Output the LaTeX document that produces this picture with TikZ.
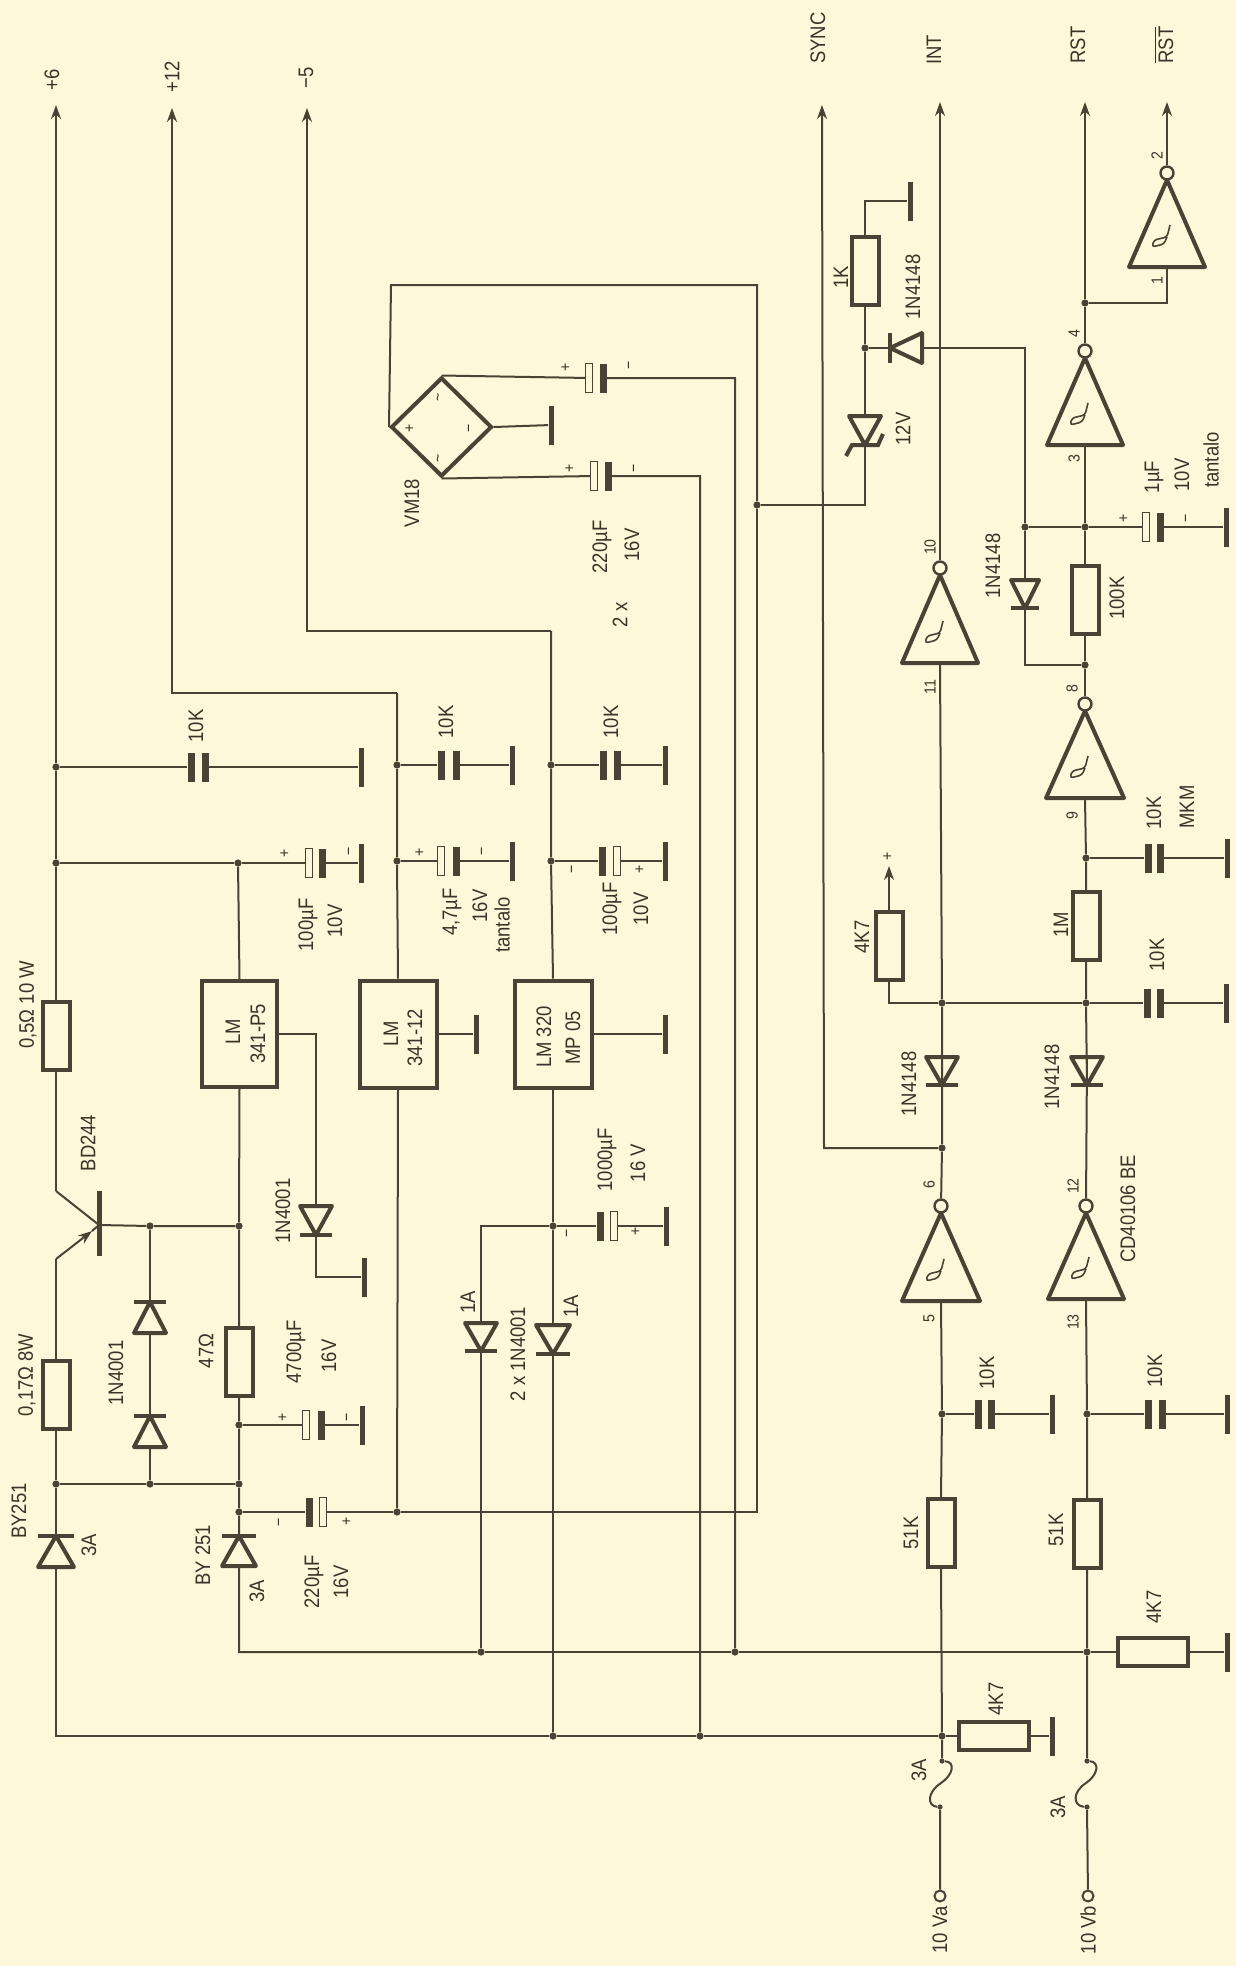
\documentclass[tikz,border=0pt]{standalone}
\usepackage{fontspec}
\setmainfont{Liberation Sans}[FakeStretch=0.88]
\usetikzlibrary{arrows.meta,shapes.geometric}
\definecolor{paper}{HTML}{FDF8D9}
\definecolor{ink}{HTML}{4A4234}
\definecolor{txt}{HTML}{3A3328}
\newcount\labcnt
\newcommand{\lab}[3]{\global\advance\labcnt by 1 \node[lab] (L\the\labcnt) at (#1,#2) {#3};}
\newcommand{\slab}[3]{\global\advance\labcnt by 1 \node[lab,font=\fontsize{8}{9}\selectfont] (L\the\labcnt) at (#1,#2) {#3};}
\newcommand{\jn}[3]{\node[jdot] (#1) at (#2,#3) {};}
\newcommand{\gnd}[3]{\node[gbar] (#1) at (#2,#3) {};}
\newcommand{\resV}[3]{\node[part,minimum width=13.5pt,minimum height=34pt] (#1) at (#2,#3) {};}
\newcommand{\resH}[3]{\node[part,minimum width=35pt,minimum height=14pt] (#1) at (#2,#3) {};}
% name, x of plate 1, x of plate 2, y, style 1, style 2
\newcommand{\cp}[6]{\node[#5] (#1a) at (#2,#4) {};\node[#6] (#1b) at (#3,#4) {};}
% name, x, y base, y apex, half width: triangle and bar
\newcommand{\diodeV}[5]{\coordinate (#1a) at (#2,#3);\coordinate (#1k) at (#2,#4);
  \draw[comp,line join=round] (#2-#5,#3) -- (#2+#5,#3) -- (#2,#4) -- cycle;
  \draw[comp] (#2-#5,#4) -- (#2+#5,#4);}
\newcommand{\diodeH}[5]{\coordinate (#1a) at (#3,#2);\coordinate (#1k) at (#4,#2);
  \draw[comp,line join=round] (#3,#2-#5) -- (#3,#2+#5) -- (#4,#2) -- cycle;
  \draw[comp] (#4,#2-#5) -- (#4,#2+#5);}
% name, x centre, y apex, y base, half width
\newcommand{\inv}[5]{\coordinate (#1i) at (#2,#4);
  \draw[comp,line join=round] (#2-#5,#4) -- (#2+#5,#4) -- (#2,#3) -- cycle;
  \node[bub] (#1o) at (#2,#3-7) {};
  \draw[wire,line width=.8pt,rounded corners=1.5pt] (#2+3,#4-42) -- (#2,#4-30) -- (#2-13,#4-27) -- (#2-15,#4-20) -- (#2-3,#4-23) -- (#2,#4-30);}
\begin{document}
\begin{tikzpicture}[x=0.5pt,y=-0.5pt,
  wire/.style={draw=ink,line width=1pt},
  comp/.style={draw=ink,line width=2pt},
  part/.style={draw=ink,line width=2pt,inner sep=0pt,rectangle},
  jdot/.style={circle,fill=ink,inner sep=0pt,minimum size=3.6pt},
  smalldot/.style={circle,fill=ink,inner sep=0pt,minimum size=2.6pt},
  gbar/.style={rectangle,fill=ink,inner sep=0pt,minimum width=2.5pt,minimum height=19.5pt},
  fp/.style={rectangle,fill=ink,inner sep=0pt,minimum width=3.5pt,minimum height=14.5pt},
  hp/.style={rectangle,draw=ink,line width=.7pt,inner sep=0pt,minimum width=3.5pt,minimum height=14.5pt},
  bub/.style={circle,draw=ink,line width=1.2pt,fill=paper,inner sep=0pt,minimum size=6.5pt},
  term/.style={circle,draw=ink,line width=1pt,inner sep=0pt,minimum size=5.5pt},
  lab/.style={rotate=90,text=txt,inner sep=0pt,font=\fontsize{10.5}{11.5}\selectfont,align=center},
  arr/.style={wire,-{Stealth[length=7pt,width=5pt]}}]
\fill[paper] (0,0) rectangle (1236,1966);
\useasboundingbox (0,0) rectangle (1236,1966);

% ---------- tips
\coordinate (tP) at (56,105);
\coordinate (tT) at (172,108);
\coordinate (tF) at (307,108);
\coordinate (tS) at (822,105);
\coordinate (tI) at (940,102);
\coordinate (tR) at (1085,102);
\coordinate (tN) at (1167,102);
\coordinate (tV) at (889,866);
\lab{52}{80}{+6}\lab{172}{77}{+12}\lab{306}{78}{−5}
\lab{818}{38}{SYNC}\lab{934}{50}{INT}\lab{1078}{45}{RST}\lab{1164}{45}{$\overline{\mbox{RST}}$}

% ---------- regulators
\node[part,minimum width=37.5pt,minimum height=53pt] (U1) at (239.5,1034) {};
\node[part,minimum width=38.5pt,minimum height=53.5pt] (U2) at (398,1034) {};
\node[part,minimum width=38.5pt,minimum height=53.5pt] (U3) at (553,1034) {};
\lab{233}{1032}{LM}\lab{258}{1034}{341-P5}
\lab{391}{1034}{LM}\lab{415}{1038}{341-12}
\lab{544}{1037}{LM 320}\lab{573}{1038}{MP 05}

% ---------- junctions
\jn{jA}{56}{767}\jn{jB}{56}{863}\jn{jC}{238}{863}
\jn{jD}{397}{765}\jn{jE}{397}{861}\jn{jF}{551}{765}\jn{jG}{551}{861}
\jn{jH}{150}{1226}\jn{jI}{239}{1226}\jn{jJ}{56}{1484}\jn{jK}{150}{1484}\jn{jL}{239}{1484}
\jn{jM}{239}{1425}\jn{jN}{239}{1512}\jn{jO}{397}{1512}
\jn{jP}{553}{1226}\jn{jQ}{481}{1652}\jn{jR}{553}{1736}\jn{jS}{700}{1736}\jn{jT}{735}{1652}
\jn{jU}{942}{1736}\jn{jV}{1087}{1652}\jn{jW}{757}{505}\jn{jX}{865}{348}
\jn{jY}{1025}{527}\jn{jZ}{1085}{527}\jn{ka}{1085}{303}\jn{kb}{1085}{665}
\jn{kc}{1086}{858}\jn{kd}{1086}{1003}\jn{ke}{942}{1003}\jn{kf}{942}{1148}
\jn{kg}{942}{1414}\jn{kh}{1087}{1414}

% ---------- grounds
\gnd{g1}{361}{767}\gnd{g2}{361}{863}\gnd{g3}{512}{765}\gnd{g4}{512}{861}
\gnd{g5}{665}{765}\gnd{g6}{665}{861}\gnd{g7}{551}{425}\gnd{g8}{364}{1277}
\gnd{g9}{362}{1425}\gnd{g10}{476}{1034}\gnd{g11}{665}{1034}\gnd{g12}{666}{1226}
\gnd{g13}{910}{201}\gnd{g14}{1226}{527}\gnd{g15}{1227}{858}\gnd{g16}{1226}{1003}
\gnd{g17}{1052}{1414}\gnd{g18}{1227}{1414}\gnd{g19}{1227}{1652}\gnd{g20}{1052}{1736}

% ---------- capacitors
\cp{c1}{191}{205}{767}{fp}{fp}
\cp{c2}{309}{322}{863}{hp}{fp}
\cp{c3}{441}{456}{765}{fp}{fp}
\cp{c4}{441}{456}{861}{hp}{fp}
\cp{c5}{603}{617}{765}{fp}{fp}
\cp{c6}{602}{617}{861}{fp}{hp}
\cp{c7}{589}{603}{378}{hp}{fp}
\cp{c8}{594}{608}{476}{hp}{fp}
\cp{c9}{306}{321}{1425}{hp}{fp}
\cp{c10}{309}{323}{1512}{fp}{hp}
\cp{c11}{600}{614}{1226}{fp}{hp}
\cp{c12}{1146}{1160}{527}{hp}{fp}
\cp{c13}{1148}{1160}{858}{fp}{fp}
\cp{c14}{1147}{1160}{1003}{fp}{fp}
\cp{c15}{978}{991}{1414}{fp}{fp}
\cp{c16}{1148}{1162}{1414}{fp}{fp}

% ---------- resistors
\resV{r1}{56}{1036}
\resV{r2}{56}{1395}
\resV{r3}{239}{1362}
\resV{r4}{865}{271}
\resV{r5}{1085}{600}
\resV{r6}{1086}{926}
\resV{r7}{889}{946}
\resV{r8}{941}{1533}
\resV{r9}{1087}{1534}
\resH{r10}{1153}{1652}
\resH{r11}{994}{1736}

% ---------- bridge
\node[diamond,draw=ink,line width=2pt,inner sep=0pt,minimum width=50.5pt,minimum height=49.5pt] (br) at (441.5,427) {};
\slab{410}{428}{+}\slab{471}{428}{−}\slab{440}{397}{\textasciitilde}\slab{440}{458}{\textasciitilde}

% ---------- diodes
\diodeV{d1}{56}{1567}{1536}{18}
\diodeV{d2}{239}{1566}{1536}{17}
\diodeV{d3}{150}{1333}{1302}{16}
\diodeV{d4}{150}{1447}{1416}{16}
\diodeV{d5}{316}{1206}{1235}{16}
\diodeV{d6}{481}{1323}{1351}{16}
\diodeV{d7}{553}{1325}{1354}{17}
\diodeV{d8}{942}{1057}{1085}{16}
\diodeV{d9}{1087}{1057}{1085}{16}
\diodeV{d10}{1025}{580}{608}{14}
\diodeH{d11}{348}{922}{890}{15}
% zener
\coordinate (za) at (865,416);\coordinate (zk) at (865,445);
\draw[comp,line join=round] (849,416) -- (881,416) -- (865,445) -- cycle;
\draw[comp] (846,456) -- (852,445) -- (878,445) -- (883,434);

% ---------- gates
\inv{i1}{1167}{180}{267}{38}
\inv{i2}{1085}{358}{445}{38}
\inv{i3}{1085}{711}{798}{39}
\inv{i4}{940}{575}{663}{38}
\inv{i5}{941}{1213}{1301}{39}
\inv{i6}{1086}{1213}{1299}{38}

% ---------- transistor
\coordinate (qb) at (99,1225);\coordinate (qc) at (56,1191);\coordinate (qe) at (56,1259);
\draw[line width=2.5pt,draw=ink] (99,1191) -- (99,1256);
\draw[wire] (qc) -- (qb);
\draw[wire,-{Stealth[length=7pt,width=5pt]}] (qe) -- (92,1231);
\draw[wire] (92,1231) -- (qb);

% ---------- fuses and terminals
\node[smalldot] (fa) at (942,1761) {};\node[smalldot] (fb) at (940,1807) {};
\node[smalldot] (fc) at (1087,1761) {};\node[smalldot] (fd) at (1087,1807) {};
\node[term] (ta) at (940,1896) {};\node[term] (tb) at (1088,1896) {};
\draw[wire] (fa) .. controls (956,1762) and (953,1775) .. (941,1783) .. controls (927,1792) and (927,1806) .. (fb);
\draw[wire] (fc) .. controls (1100,1762) and (1098,1775) .. (1086,1783) .. controls (1072,1792) and (1073,1806) .. (fd);

% ---------- wires: +6
\draw[arr] (jA) -- (tP);
\draw[wire] (jA) -- (jB) (jB) -- (r1.north);
\draw[wire] (r1.south) -- (qc);
\draw[wire] (qe) -- (r2.north);
\draw[wire] (r2.south) -- (jJ) (jJ) -- (d1k) (d1a) -- (56,1736) -- (jR);
\draw[wire] (jA) -- (c1a) (c1b) -- (g1);
\draw[wire] (jB) -- (jC) (jC) -- (c2a) (c2b) -- (g2);
\draw[wire] (jC) -- (U1.north);
% +12
\draw[arr] (397,693) -- (172,693) -- (tT);
\draw[wire] (397,693) -- (jD) (jD) -- (jE) (jE) -- (U2.north);
\draw[wire] (jD) -- (c3a) (c3b) -- (g3);
\draw[wire] (jE) -- (c4a) (c4b) -- (g4);
% -5
\draw[arr] (551,631) -- (307,631) -- (tF);
\draw[wire] (551,631) -- (jF) (jF) -- (jG) (jG) -- (U3.north);
\draw[wire] (jF) -- (c5a) (c5b) -- (g5);
\draw[wire] (jG) -- (c6a) (c6b) -- (g6);
% regulator 1 column
\draw[wire] (U1.south) -- (jI) (jI) -- (r3.north) (r3.south) -- (jM) (jM) -- (jL) (jL) -- (jN) (jN) -- (d2k) (d2a) -- (239,1652) -- (jQ);
\draw[wire] (jI) -- (jH) (jH) -- (qb);
\draw[wire] (jH) -- (d3k) (d3a) -- (d4k) (d4a) -- (jK);
\draw[wire] (jJ) -- (jK) (jK) -- (jL);
\draw[wire] (jM) -- (c9a) (c9b) -- (g9);
\draw[wire] (jN) -- (c10a) (c10b) -- (jO);
\draw[wire] (U1.east |- 316,1034) -- (316,1034) -- (d5a) (d5k) -- (316,1277) -- (g8);
% regulator 2
\draw[wire] (U2.south) -- (jO);
\draw[wire] (U2.east |- 437,1034) -- (g10);
\draw[wire] (jO) -- (757,1512) -- (jW);
% regulator 3
\draw[wire] (U3.south) -- (jP) (jP) -- (d7a) (d7k) -- (jR);
\draw[wire] (U3.east |- 592,1034) -- (g11);
\draw[wire] (jP) -- (481,1226) -- (d6a) (d6k) -- (jQ);
\draw[wire] (jP) -- (c11a) (c11b) -- (g12);
% long buses
\draw[wire] (jQ) -- (jT) (jT) -- (jV);
\draw[wire] (jR) -- (jS) (jS) -- (jU);
% bridge
\draw[wire] (br.west) -- (391,285) -- (757,285) -- (jW);
\draw[wire] (br.north) -- (c7a) (c7b) -- (735,378) -- (jT);
\draw[wire] (br.south) -- (c8a) (c8b) -- (700,476) -- (jS);
\draw[wire] (br.east) -- (g7);
% zener branch
\draw[wire] (jW) -- (865,505) -- (zk) (za) -- (jX) (jX) -- (r4.south);
\draw[wire] (r4.north) -- (865,201) -- (g13);
\draw[wire] (jX) -- (d11k) (d11a) -- (1025,348) -- (jY);
\draw[wire] (jY) -- (d10a) (d10k) -- (1025,665) -- (kb);
\draw[wire] (jY) -- (jZ) (jZ) -- (c12a) (c12b) -- (g14);
% reset chain
\draw[arr] (i1o) -- (tN);
\draw[wire] (i1i) -- (1167,303) -- (ka);
\draw[arr] (ka) -- (tR);
\draw[wire] (ka) -- (i2o) (i2i) -- (jZ) (jZ) -- (r5.north) (r5.south) -- (kb) (kb) -- (i3o);
\draw[wire] (i3i) -- (kc) (kc) -- (r6.north) (r6.south) -- (kd) (kd) -- (d9k) (d9a) -- (i6o);
\draw[wire] (kc) -- (c13a) (c13b) -- (g15);
\draw[wire] (kd) -- (c14a) (c14b) -- (g16);
\draw[wire] (kd) -- (ke);
\draw[wire] (ke) -- (889,1003) -- (r7.south);
\draw[arr] (r7.north) -- (tV);
% int chain
\draw[arr] (i4o) -- (tI);
\draw[wire] (i4i) -- (ke) (ke) -- (d8k) (d8a) -- (kf) (kf) -- (i5o);
\draw[arr] (kf) -- (824,1148) -- (tS);
% inputs
\draw[wire] (i5i) -- (kg) (kg) -- (r8.north) (r8.south) -- (jU) (jU) -- (fa) (fb) -- (ta);
\draw[wire] (i6i) -- (kh) (kh) -- (r9.north) (r9.south) -- (jV) (jV) -- (fc) (fd) -- (tb);
\draw[wire] (kg) -- (c15a) (c15b) -- (g17);
\draw[wire] (kh) -- (c16a) (c16b) -- (g18);
\draw[wire] (jV) -- (r10.west) (r10.east) -- (g19);
\draw[wire] (jU) -- (r11.west) (r11.east) -- (g20);

% ---------- labels
\lab{196}{726}{10K}\lab{446}{722}{10K}\lab{611}{722}{10K}
\lab{308}{925}{100µF}\lab{335}{921}{10V}
\lab{452}{912}{4,7µF}\lab{480}{906}{16V}\lab{502}{925}{tantalo}
\lab{612}{909}{100µF}\lab{641}{909}{10V}
\slab{285}{853}{+}\slab{351}{851}{−}\slab{420}{852}{+}\slab{484}{851}{−}
\slab{574}{869}{−}\slab{640}{869}{+}
\slab{566}{367}{+}\slab{631}{365}{−}\slab{570}{468}{+}\slab{636}{468}{−}
\lab{412}{503}{VM18}\lab{602}{547}{220µF}\lab{632}{545}{16V}\lab{620}{615}{2 x}
\lab{28}{1005}{0,5Ω  10 W}\lab{88}{1143}{BD244}\lab{27}{1375}{0,17Ω  8W}
\lab{116}{1373}{1N4001}\lab{283}{1211}{1N4001}\lab{19}{1511}{BY251}\lab{89}{1545}{3A}
\lab{206}{1351}{47Ω}\lab{296}{1352}{4700µF}\lab{329}{1356}{16V}
\slab{283}{1417}{+}\slab{349}{1417}{−}\slab{281}{1522}{−}\slab{347}{1521}{+}
\lab{314}{1582}{220µF}\lab{341}{1582}{16V}\lab{203}{1555}{BY 251}\lab{257}{1591}{3A}
\lab{468}{1302}{1A}\lab{571}{1306}{1A}\lab{518}{1354}{2 x 1N4001}
\lab{607}{1160}{1000µF}\lab{638}{1163}{16 V}\slab{569}{1233}{−}\slab{636}{1231}{+}
\lab{862}{937}{4K7}\slab{888}{856}{+}
\lab{841}{277}{1K}\lab{913}{287}{1N4148}\lab{903}{429}{12V}
\lab{993}{566}{1N4148}\lab{1117}{598}{100K}
\lab{1154}{477}{1µF}\lab{1182}{475}{10V}\lab{1211}{460}{tantalo}
\slab{1124}{518}{+}\slab{1188}{518}{−}
\slab{1157}{156}{2}\slab{1157}{281}{1}\slab{1074}{334}{4}\slab{1074}{459}{3}
\slab{1072}{689}{8}\slab{1072}{816}{9}\slab{930}{547}{10}\slab{930}{687}{11}
\slab{929}{1185}{6}\slab{929}{1319}{5}\slab{1073}{1186}{12}\slab{1073}{1322}{13}
\lab{1154}{813}{10K}\lab{1187}{807}{MKM}\lab{1061}{925}{1M}\lab{1157}{955}{10K}
\lab{909}{1084}{1N4148}\lab{1052}{1077}{1N4148}\lab{1128}{1209}{CD40106 BE}
\lab{987}{1373}{10K}\lab{1155}{1371}{10K}\lab{911}{1533}{51K}\lab{1056}{1530}{51K}
\lab{1154}{1607}{4K7}\lab{996}{1699}{4K7}
\lab{919}{1770}{3A}\lab{1058}{1807}{3A}
\lab{940}{1930}{10 Va}\lab{1088}{1930}{10 Vb}
\end{tikzpicture}
\end{document}
